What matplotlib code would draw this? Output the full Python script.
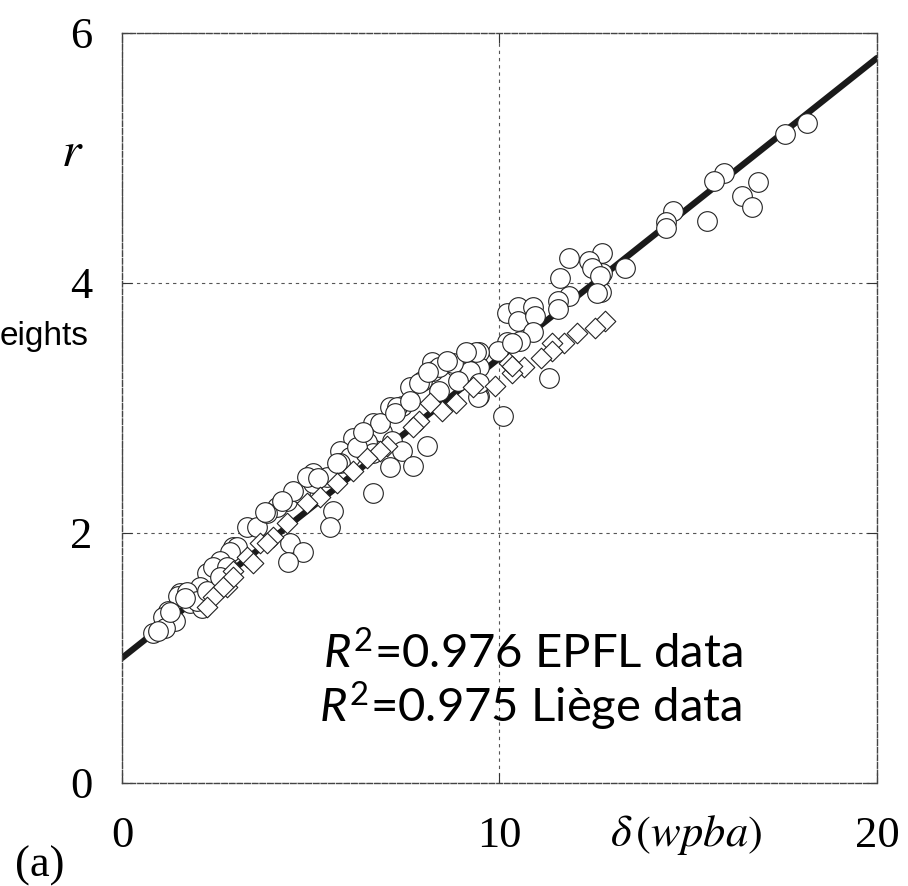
import matplotlib
matplotlib.use('Agg')
import matplotlib.pyplot as plt

# EPFL data (circles)
epfl_x = [18.15, 17.57, 15.95, 15.69, 16.85, 16.43, 16.69, 14.60, 14.42, 14.42,
          15.50, 13.33, 12.72, 12.72, 12.70, 11.83, 12.38, 12.46, 12.67, 11.61,
          11.83, 11.56, 11.56, 12.57, 10.21, 10.50, 10.90, 10.48, 10.93, 10.90,
          10.53, 10.21, 9.95, 9.47, 9.47, 9.47, 11.32, 10.08, 9.39, 10.34,
          8.20, 8.23, 8.86, 9.21, 9.42, 9.47, 7.62, 7.94, 8.41, 7.43,
          7.09, 6.64, 6.90, 6.11, 6.48, 7.14, 8.07, 7.43, 7.70, 7.09,
          6.64, 5.77, 6.03, 5.05, 5.42, 6.64, 5.58, 4.37, 4.71, 5.50,
          4.44, 4.79, 3.31, 3.57, 2.94, 2.25, 2.06, 1.53, 4.39, 3.04,
          2.86, 1.80, 1.48, 2.12, 1.22, 1.40, 1.08, 1.14, 0.82, 0.95,
          5.05, 4.89, 4.52, 4.10, 3.84, 5.77, 6.83, 7.28, 7.88, 8.41,
          8.76, 2.59, 2.41, 1.72, 1.98, 2.25, 2.78, 2.59,
          3.78, 4.23, 5.19, 5.69, 6.22, 6.38, 7.22, 7.62, 8.10, 8.60,
          8.89, 9.10, 1.67, 1.27]
epfl_y = [5.28, 5.19, 4.88, 4.82, 4.81, 4.70, 4.61, 4.58, 4.49, 4.44,
          4.50, 4.12, 4.24, 4.08, 3.93, 4.20, 4.18, 4.12, 4.06, 4.04,
          3.90, 3.86, 3.79, 3.92, 3.76, 3.81, 3.81, 3.70, 3.74, 3.61,
          3.54, 3.53, 3.46, 3.45, 3.33, 3.10, 3.24, 2.94, 3.45, 3.52,
          3.37, 3.30, 3.33, 3.30, 3.09, 3.20, 3.17, 3.22, 3.14, 3.02,
          3.01, 2.88, 2.81, 2.76, 2.73, 2.74, 2.70, 2.66, 2.54, 2.53,
          2.64, 2.66, 2.61, 2.48, 2.45, 2.32, 2.18, 2.26, 2.32, 2.05,
          1.92, 1.85, 2.05, 2.05, 1.89, 1.68, 1.57, 1.52, 1.77, 1.89,
          1.85, 1.44, 1.50, 1.40, 1.38, 1.30, 1.33, 1.24, 1.20, 1.22,
          2.40, 2.45, 2.34, 2.21, 2.16, 2.56, 2.88, 3.01, 3.20, 3.33,
          3.36, 1.78, 1.73, 1.53, 1.46, 1.54, 1.73, 1.65,
          2.17, 2.26, 2.44, 2.56, 2.69, 2.81, 2.96, 3.06, 3.29, 3.38,
          3.22, 3.45, 1.48, 1.37]

# Liege data (diamonds)
liege_x = [12.80, 12.54, 12.04, 11.72, 11.40, 11.40, 11.11, 10.66, 10.34, 10.24,
           9.87, 10.34, 9.29, 8.86, 8.49, 8.15, 7.88, 7.70, 7.01, 6.83,
           6.48, 6.11, 5.69, 5.24, 4.89, 4.37, 4.00, 3.65, 3.31, 2.94,
           2.78, 3.84, 3.47, 2.94, 2.67, 2.41, 2.25]
liege_y = [3.70, 3.64, 3.60, 3.52, 3.52, 3.46, 3.40, 3.33, 3.28, 3.36,
           3.18, 3.34, 3.17, 3.04, 2.98, 3.04, 2.90, 2.85, 2.70, 2.66,
           2.60, 2.50, 2.40, 2.29, 2.24, 2.08, 1.97, 1.92, 1.81, 1.70,
           1.57, 1.92, 1.76, 1.65, 1.57, 1.49, 1.41]

# fitted line
fit_x = [0, 20]
fit_y = [1.0, 5.8]

x_ticks = [0, 10, 20]
y_ticks = [0, 2, 4, 6]

plt.rcParams['mathtext.fontset'] = 'custom'
plt.rcParams['mathtext.rm'] = 'Lato'
plt.rcParams['mathtext.it'] = 'Lato:italic'

fig = plt.figure(figsize=(9.08, 8.86), dpi=100)
ax = fig.add_axes([122/908, 1-783/886, 755/908, 750/886])

ax.plot(fit_x, fit_y, color='#1a1a1a', lw=4.5, solid_capstyle='round', zorder=2)
ax.scatter(epfl_x, epfl_y, s=200, marker='o', facecolor='white',
           edgecolor='#222222', linewidths=0.8, zorder=3)
ax.scatter(liege_x, liege_y, s=110, marker='D', facecolor='white',
           edgecolor='#222222', linewidths=0.8, zorder=4)

ax.set_xlim(0, 20)
ax.set_ylim(0, 6)
ax.set_xticks(x_ticks)
ax.set_yticks(y_ticks)
ax.grid(True, ls=(0, (3, 3.5)), color='#555555', lw=0.8)
ax.set_axisbelow(True)

for sp in ax.spines.values():
    sp.set_linestyle((0, (4, 1.5)))
    sp.set_color('#444444')
    sp.set_linewidth(1.0)

ax.tick_params(direction='in', length=7, width=0.8, top=True, right=True,
               labelsize=32, color='#333333')
ax.tick_params(axis='x', pad=24)
ax.tick_params(axis='y', pad=21)
for lab in ax.get_xticklabels() + ax.get_yticklabels():
    lab.set_fontfamily('Liberation Serif')

# labels
fig.text(72/908, 1-152/886, r'$r$', math_fontfamily='stix', fontsize=36,
         ha='center', va='center')
fig.text(0.0, 1-345/886, 'eights', family='Liberation Sans', fontsize=24,
         ha='left', va='baseline')
fig.text(686/908, 1-835/886, r'$\delta\,(wpba)$', math_fontfamily='stix',
         fontsize=32, ha='center', va='center')
fig.text(40/908, 1-866/886, '(a)', family='Liberation Serif', fontsize=32,
         ha='center', va='center')

fig.text(742/908, 1-668/886, r'$\mathit{R}^{2}$=0.976 EPFL data', family='Lato',
         fontsize=34, ha='right', va='baseline')
fig.text(742/908, 1-722/886, r'$\mathit{R}^{2}$=0.975 Liège data', family='Lato',
         fontsize=34, ha='right', va='baseline')

fig.savefig('out.png', dpi=100)
